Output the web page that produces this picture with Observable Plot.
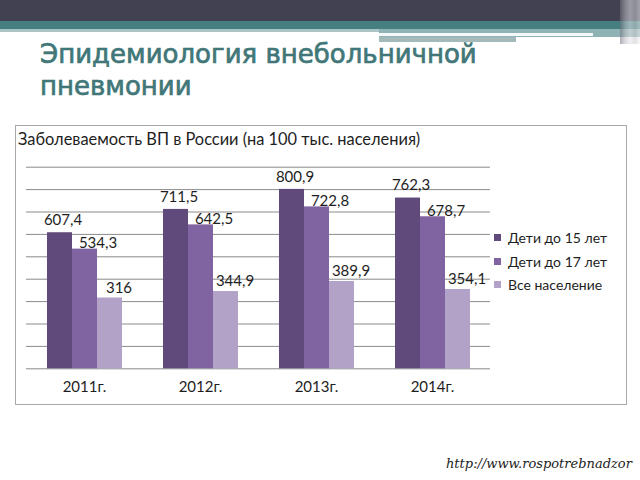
<!DOCTYPE html>
<html>
<head>
<meta charset="utf-8">
<script src="https://cdn.jsdelivr.net/npm/d3@7"></script>
<script src="https://cdn.jsdelivr.net/npm/@observablehq/plot@0.6"></script>
<style>
  html, body { margin: 0; padding: 0; background: #fff; }
  #page { position: relative; width: 640px; height: 480px; overflow: hidden; background: #fff; }
  .abs { position: absolute; }
  #title { left: 40px; top: 39px; font-family: "DejaVu Sans", sans-serif; font-size: 26px; line-height: 31.5px; color: #417778; -webkit-text-stroke: 0.7px #417778; white-space: nowrap; }
  #frame { left: 15px; top: 125px; width: 610px; height: 278px; border: 1.5px solid #a9a9a9; box-sizing: content-box; }
  #ctitle { left: 18px; top: 129px; font-family: Lato, sans-serif; font-size: 16.4px; color: #1e1e1e; white-space: nowrap; }
  #plotwrap { left: 0px; top: 126px; }
  #legend { left: 494px; top: 226px; font-family: Lato, sans-serif; font-size: 14px; color: #1e1e1e; }
  #legend .item { height: 23.5px; display: flex; align-items: center; white-space: nowrap; }
  #legend .sw { width: 7px; height: 7px; margin-right: 7px; }
  #source { left: 446px; top: 456px; font-family: "DejaVu Serif", serif; font-style: italic; font-size: 13px; color: #222; white-space: nowrap; }
</style>
</head>
<body>
<div id="page">
  <div class="abs" style="left:0;top:0;width:640px;height:21px;background:#414152;"></div>
  <div class="abs" style="left:0;top:21px;width:640px;height:8px;background:#457f80;"></div>
  <div class="abs" style="left:0;top:29px;width:640px;height:3px;background:#a9c4c4;"></div>
  <div class="abs" style="left:379px;top:29px;width:261px;height:8px;background:#8fb3b4;"></div>
  <div class="abs" style="left:379px;top:33px;width:214px;height:3px;background:#f4f8f8;"></div>
  <div class="abs" style="left:379px;top:37px;width:137px;height:5px;background:#a3b9ba;"></div>
  <div class="abs" style="left:620px;top:0;width:20px;height:44px;background:linear-gradient(90deg,#6d6d7a,#b8b8c0,#e6e6ea,#c9c9cf,#f2f2f4);opacity:0.55;"></div>
  <div id="title" class="abs">Эпидемиология внебольничной<br>пневмонии</div>
  <div id="frame" class="abs"></div>
  <div id="ctitle" class="abs">Заболеваемость ВП в России (на 100 тыс. населения)</div>
  <div id="plotwrap" class="abs"></div>
  <div id="legend" class="abs"></div>
  <div id="source" class="abs">http://www.rospotrebnadzor</div>
</div>
<script>
const years = ["2011г.", "2012г.", "2013г.", "2014г."];
const seriesNames = ["Дети до 15 лет", "Дети до 17 лет", "Все население"];
const children15 = [607.4, 711.5, 800.9, 762.3];
const children17 = [534.3, 642.5, 722.8, 678.7];
const population = [316, 344.9, 389.9, 354.1];
const yTicks = [0, 100, 200, 300, 400, 500, 600, 700, 800, 900];
const colors = ["#604a7b", "#8064a2", "#b3a2c7"];

const seriesValues = [children15, children17, population];
const rows = [];
seriesNames.forEach((s, si) => {
  years.forEach((y, yi) => {
    rows.push({year: y, series: s, value: seriesValues[si][yi]});
  });
});
const fmt = v => String(v).replace(".", ",");

const labelOffsets = [{dx: 3, dy: -12.5}, {dx: 13, dy: -6}, {dx: 9, dy: -10}];

const chart = Plot.plot({
  width: 500,
  height: 280,
  marginLeft: 25,
  marginRight: 8.3,
  marginTop: 40.7,
  marginBottom: 37.7,
  style: {fontFamily: "Lato, sans-serif", fontSize: "15px", color: "#1e1e1e", background: "transparent"},
  fx: {domain: years, padding: 0, label: null, axis: "bottom", tickSize: 0, tickPadding: 13},
  x: {domain: seriesNames, paddingInner: 0.02, paddingOuter: 0.8, axis: null},
  y: {domain: [0, 900], axis: null},
  color: {domain: seriesNames, range: colors},
  marks: [
    Plot.ruleY(yTicks, {stroke: "#8a8a8a", strokeWidth: 1, strokeOpacity: 1}),
    Plot.barY(rows, {fx: "year", x: "series", y: "value", fill: "series"}),
    ...seriesNames.map((s, i) => Plot.text(rows.filter(r => r.series === s), {
      fx: "year", x: "series", y: "value", text: d => fmt(d.value),
      dx: labelOffsets[i].dx, dy: labelOffsets[i].dy, fontSize: 15, fill: "#1e1e1e"
    }))
  ]
});
document.getElementById("plotwrap").appendChild(chart);

const legend = document.getElementById("legend");
seriesNames.forEach((s, i) => {
  const item = document.createElement("div");
  item.className = "item";
  const sw = document.createElement("div");
  sw.className = "sw";
  sw.style.background = colors[i];
  const t = document.createElement("span");
  t.textContent = s;
  item.appendChild(sw);
  item.appendChild(t);
  legend.appendChild(item);
});
</script>
</body>
</html>
